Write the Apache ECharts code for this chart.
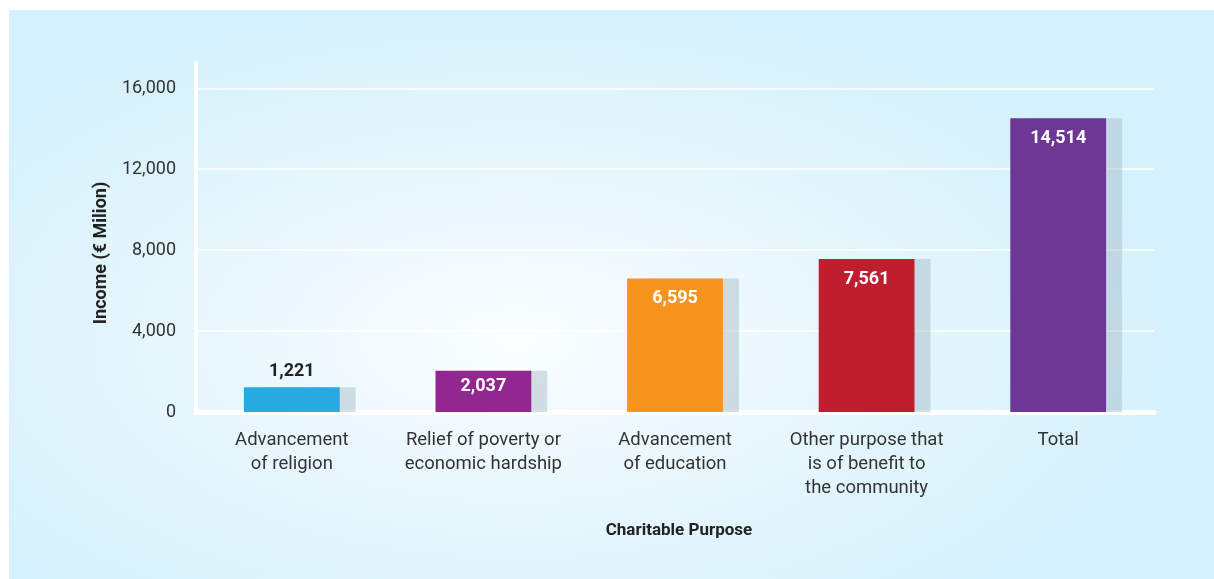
<!DOCTYPE html>
<html>
<head>
<meta charset="utf-8">
<script src="https://cdn.jsdelivr.net/npm/echarts@6/dist/echarts.min.js"></script>
<style>
  html, body { margin: 0; padding: 0; background: #fff; }
  #chart {
    width: 1214px;
    height: 579px;
    background:
      radial-gradient(ellipse 55% 60% at 42% 58%, #fbfeff 0%, #e9f7fd 45%, #d5f1fb 100%) 9px 10px / 1205px 569px no-repeat,
      #fff;
  }
</style>
</head>
<body>
<div id="chart"></div>
<script>
const categories = [
  'Advancement\nof religion',
  'Relief of poverty or\neconomic hardship',
  'Advancement\nof education',
  'Other purpose that\nis of benefit to\nthe community',
  'Total',
]
const incomeValues = [1221, 2037, 6595, 7561, 14514]
const yTicks = [0, 4000, 8000, 12000, 16000]

const barColors = ['#27aae1', '#92278f', '#f7941d', '#be1e2d', '#6e3795']
const font = 'Roboto, sans-serif'

const fmt = v => v.toLocaleString('en-US')

const barData = incomeValues.map((v, i) => {
  const item = { value: v, itemStyle: { color: barColors[i] } }
  if (i === 0) {
    item.label = { position: 'top', distance: 7, color: '#222' }
  } else if (i === 1) {
    item.label = { distance: 7 }
  }
  return item
})

const chart = echarts.init(document.getElementById('chart'))

chart.setOption({
  backgroundColor: 'transparent',
  animation: false,
  grid: { left: 196, right: 60, top: 63, bottom: 167 },
  xAxis: {
    type: 'category',
    data: categories,
    offset: 2.5,
    name: 'Charitable Purpose',
    nameLocation: 'middle',
    nameGap: 108,
    nameTextStyle: { fontFamily: font, fontWeight: 'bold', fontSize: 17, color: '#222', padding: [0, 0, 0, 8] },
    axisLine: { show: true, lineStyle: { color: '#fff', width: 5 } },
    axisTick: { show: false },
    axisLabel: {
      interval: 0,
      margin: 14,
      fontFamily: font,
      fontSize: 18.5,
      lineHeight: 24,
      color: '#333',
    },
  },
  yAxis: {
    type: 'value',
    min: yTicks[0],
    max: 17250,
    interval: 4000,
    name: 'Income (€ Milion)',
    nameLocation: 'middle',
    nameRotate: 90,
    nameGap: 86,
    nameTextStyle: { fontFamily: font, fontWeight: 'bold', fontSize: 18, color: '#222', padding: [0, 31, 0, 0] },
    axisLine: { show: true, lineStyle: { color: '#fff', width: 4 } },
    axisTick: { show: false },
    axisLabel: {
      margin: 20,
      fontFamily: font,
      fontSize: 18,
      color: '#333',
      showMaxLabel: false,
      formatter: v => (yTicks.includes(v) ? fmt(v) : ''),
    },
    splitLine: {
      show: true,
      showMinLine: false,
      showMaxLine: false,
      lineStyle: { color: '#fff', width: 1.5 },
    },
  },
  series: [
    {
      type: 'bar',
      data: barData,
      barWidth: '50%',
      itemStyle: {
        shadowColor: 'rgba(165, 185, 198, 0.45)',
        shadowOffsetX: 16,
        shadowOffsetY: 0,
        shadowBlur: 0,
      },
      label: {
        show: true,
        position: 'insideTop',
        distance: 11,
        fontFamily: font,
        fontWeight: 'bold',
        fontSize: 18,
        color: '#fff',
        formatter: p => fmt(p.value),
      },
    },
  ],
})
</script>
</body>
</html>
